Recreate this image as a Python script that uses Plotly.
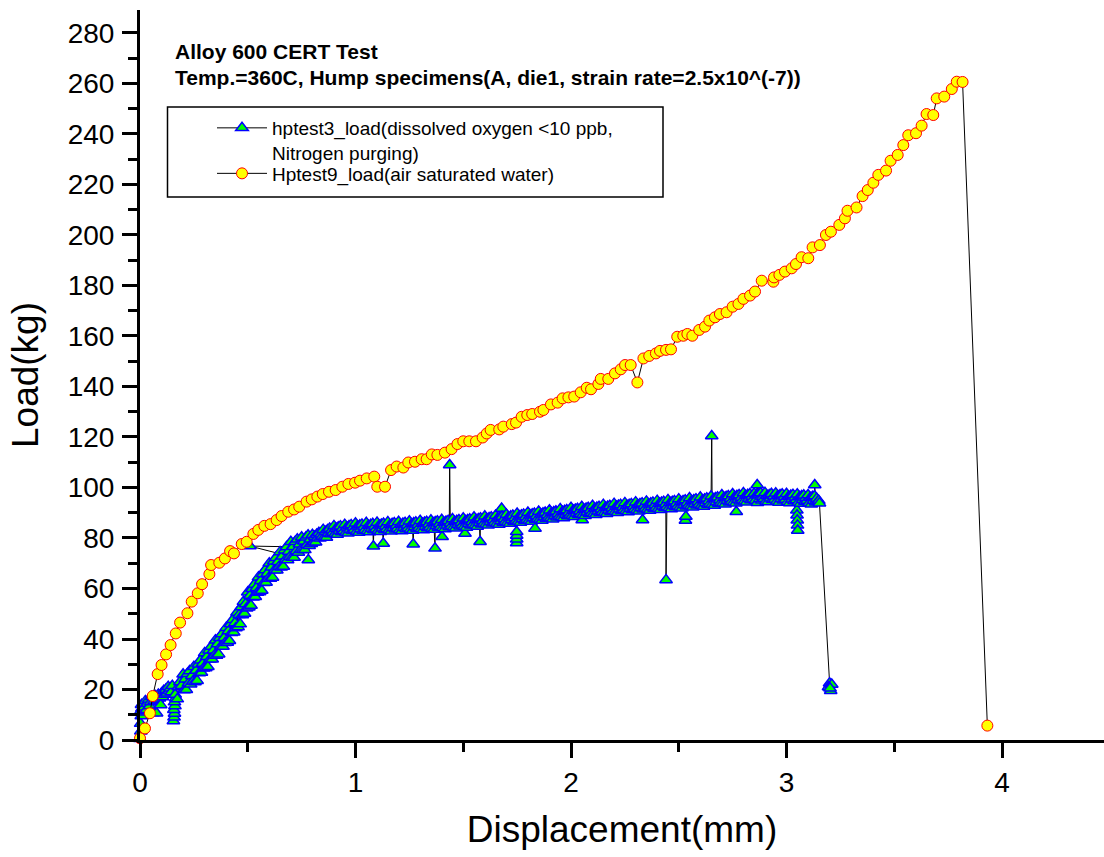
import plotly.graph_objects as go

# ---------------- data ----------------
# hptest3_load (dissolved oxygen <10 ppb, Nitrogen purging)
blue_x = [
    0.000, -0.008, 0.004, -0.004, 0.003, -0.007, 0.006, 0.000, 0.009, 0.007,
    0.015, 0.020, 0.025, 0.030, 0.035, 0.040, 0.045, 0.050, 0.055, 0.060,
    0.065, 0.070, 0.077, 0.080, 0.085, 0.090, 0.096, 0.100, 0.105, 0.110,
    0.115, 0.120, 0.125, 0.131, 0.135, 0.140, 0.145, 0.150, 0.155, 0.158,
    0.160, 0.157, 0.162, 0.160, 0.165, 0.163, 0.173, 0.178, 0.185, 0.192,
    0.200, 0.205, 0.210, 0.215, 0.220, 0.225, 0.230, 0.235, 0.240, 0.245,
    0.250, 0.255, 0.260, 0.265, 0.270, 0.275, 0.280, 0.285, 0.290, 0.295,
    0.300, 0.305, 0.310, 0.315, 0.320, 0.325, 0.330, 0.335, 0.340, 0.345,
    0.350, 0.355, 0.360, 0.365, 0.370, 0.375, 0.380, 0.385, 0.390, 0.395,
    0.400, 0.405, 0.410, 0.415, 0.420, 0.425, 0.430, 0.435, 0.440, 0.445,
    0.450, 0.455, 0.460, 0.465, 0.470, 0.475, 0.480, 0.485, 0.490, 0.495,
    0.500, 0.505, 0.510, 0.515, 0.520, 0.525, 0.530, 0.535, 0.540, 0.545,
    0.550, 0.555, 0.560, 0.565, 0.570, 0.575, 0.580, 0.585, 0.590, 0.595,
    0.600, 0.605, 0.610, 0.615, 0.620, 0.625, 0.630, 0.635, 0.640, 0.645,
    0.650, 0.655, 0.660, 0.665, 0.670, 0.675, 0.680, 0.685, 0.690, 0.695,
    0.700, 0.705, 0.710, 0.510, 0.715, 0.720, 0.725, 0.730, 0.735, 0.740, 0.745,
    0.750, 0.755, 0.760, 0.765, 0.770, 0.775, 0.780, 0.781, 0.785, 0.790, 0.795,
    0.800, 0.805, 0.810, 0.815, 0.820, 0.825, 0.830, 0.835, 0.840, 0.845,
    0.850, 0.855, 0.860, 0.865, 0.870, 0.875, 0.880, 0.885, 0.890, 0.895,
    0.900, 0.905, 0.910, 0.915, 0.920, 0.925, 0.930, 0.935, 0.940, 0.945,
    0.950, 0.955, 0.960, 0.965, 0.970, 0.975, 0.980, 0.985, 0.990, 0.995,
    1.000, 1.005, 1.010, 1.015, 1.020, 1.025, 1.030, 1.035, 1.040, 1.045,
    1.050, 1.055, 1.060, 1.065, 1.070, 1.075, 1.080, 1.083, 1.085, 1.090, 1.095,
    1.100, 1.105, 1.110, 1.115, 1.120, 1.125, 1.129, 1.130, 1.135, 1.140, 1.145,
    1.150, 1.155, 1.160, 1.165, 1.170, 1.175, 1.180, 1.185, 1.190, 1.195,
    1.200, 1.205, 1.210, 1.215, 1.220, 1.225, 1.230, 1.235, 1.240, 1.245,
    1.250, 1.255, 1.260, 1.265, 1.268, 1.270, 1.275, 1.280, 1.285, 1.290, 1.295,
    1.300, 1.305, 1.310, 1.315, 1.320, 1.325, 1.330, 1.335, 1.340, 1.345,
    1.350, 1.355, 1.360, 1.365, 1.369, 1.370, 1.375, 1.380, 1.385, 1.390, 1.395,
    1.400, 1.402, 1.405, 1.410, 1.415, 1.420, 1.425, 1.430, 1.435, 1.437, 1.440, 1.445,
    1.450, 1.455, 1.460, 1.465, 1.470, 1.475, 1.480, 1.485, 1.490, 1.495,
    1.500, 1.505, 1.508, 1.510, 1.515, 1.520, 1.525, 1.530, 1.535, 1.540, 1.545,
    1.550, 1.555, 1.560, 1.565, 1.570, 1.575, 1.578, 1.580, 1.585, 1.590, 1.595,
    1.600, 1.605, 1.610, 1.615, 1.620, 1.625, 1.630, 1.635, 1.640, 1.645,
    1.650, 1.655, 1.660, 1.665, 1.670, 1.675, 1.678, 1.680, 1.685, 1.690, 1.695,
    1.700, 1.705, 1.710, 1.715, 1.720, 1.725, 1.730, 1.735, 1.740, 1.745,
    1.748, 1.748, 1.748, 1.748,
    1.750, 1.755, 1.760, 1.765, 1.770, 1.775, 1.780, 1.785, 1.790, 1.795,
    1.800, 1.805, 1.810, 1.815, 1.820, 1.825, 1.830, 1.833, 1.835, 1.840, 1.845,
    1.850, 1.855, 1.860, 1.865, 1.870, 1.875, 1.880, 1.885, 1.890, 1.895,
    1.900, 1.905, 1.910, 1.915, 1.920, 1.925, 1.930, 1.935, 1.940, 1.945,
    1.950, 1.955, 1.960, 1.965, 1.970, 1.975, 1.980, 1.985, 1.990, 1.995,
    2.000, 2.005, 2.010, 2.015, 2.020, 2.025, 2.030, 2.035, 2.040, 2.045,
    2.050, 2.052, 2.055, 2.060, 2.065, 2.070, 2.075, 2.080, 2.085, 2.090, 2.095,
    2.100, 2.105, 2.110, 2.115, 2.120, 2.125, 2.130, 2.135, 2.140, 2.145,
    2.150, 2.155, 2.160, 2.165, 2.170, 2.175, 2.180, 2.185, 2.190, 2.195,
    2.200, 2.205, 2.210, 2.215, 2.220, 2.225, 2.230, 2.235, 2.240, 2.245,
    2.250, 2.255, 2.260, 2.265, 2.270, 2.275, 2.280, 2.285, 2.290, 2.295,
    2.300, 2.305, 2.310, 2.315, 2.320, 2.325, 2.330, 2.332, 2.335, 2.340, 2.345,
    2.350, 2.355, 2.360, 2.365, 2.370, 2.375, 2.380, 2.385, 2.390, 2.395,
    2.400, 2.405, 2.410, 2.415, 2.420, 2.425, 2.430, 2.435, 2.440, 2.441, 2.445,
    2.450, 2.455, 2.460, 2.465, 2.470, 2.475, 2.480, 2.485, 2.490, 2.495,
    2.500, 2.505, 2.510, 2.515, 2.520, 2.525, 2.530, 2.531, 2.533, 2.535, 2.540, 2.545,
    2.550, 2.555, 2.560, 2.565, 2.570, 2.575, 2.580, 2.585, 2.590, 2.595,
    2.600, 2.605, 2.610, 2.615, 2.620, 2.625, 2.630, 2.635, 2.640, 2.645,
    2.650, 2.653, 2.655, 2.660, 2.665, 2.670, 2.675, 2.680, 2.685, 2.690, 2.695,
    2.700, 2.705, 2.710, 2.715, 2.720, 2.725, 2.730, 2.735, 2.740, 2.745,
    2.750, 2.755, 2.760, 2.765, 2.767, 2.770, 2.775, 2.780, 2.785, 2.790, 2.795,
    2.800, 2.805, 2.810, 2.815, 2.820, 2.825, 2.830, 2.835, 2.840, 2.845,
    2.850, 2.855, 2.860, 2.864, 2.865, 2.870, 2.875, 2.880, 2.885, 2.890, 2.895,
    2.900, 2.905, 2.910, 2.915, 2.920, 2.925, 2.930, 2.935, 2.940, 2.945,
    2.950, 2.955, 2.960, 2.965, 2.970, 2.975, 2.980, 2.985, 2.990, 2.995,
    3.000, 3.005, 3.010, 3.015, 3.020, 3.025, 3.030, 3.035, 3.040, 3.045,
    3.048, 3.049, 3.050, 3.051, 3.052,
    3.050, 3.055, 3.060, 3.065, 3.070, 3.075, 3.080, 3.085, 3.090, 3.095,
    3.100, 3.105, 3.110, 3.115, 3.120, 3.125, 3.130, 3.131, 3.135, 3.140, 3.145,
    3.150, 3.153, 3.200, 3.195, 3.205, 3.210, 3.202,
]
blue_y = [
    0.5, 2.0, 3.5, 5.0, 6.5, 8.0, 9.5, 11.0, 12.5, 14.0,
    11.5, 13.0, 15.5, 12.0, 14.5, 16.0, 13.5, 15.0, 17.0, 10.7,
    15.5, 17.5, 10.6, 16.0, 18.0, 16.5, 13.9, 18.5, 17.0, 19.5,
    18.0, 20.0, 18.5, 21.1, 19.5, 20.5, 19.0, 21.5, 7.5, 9.0,
    10.5, 12.0, 13.5, 15.0, 16.5, 18.0, 16.2, 21.0, 23.0, 21.5,
    26.0, 19.8, 24.1, 19.9, 26.2, 22.5, 27.3, 22.1, 25.4, 23.2,
    29.0, 23.0, 27.5, 23.5, 30.0, 26.5, 31.6, 26.7, 30.3, 28.4,
    34.5, 28.5, 33.0, 29.0, 35.5, 32.0, 37.0, 32.0, 35.5, 33.5,
    39.5, 33.5, 38.0, 34.0, 40.5, 37.0, 42.0, 37.0, 40.5, 38.5,
    44.5, 38.6, 43.2, 39.3, 45.9, 42.5, 47.6, 42.7, 46.3, 44.4,
    50.5, 44.8, 49.6, 45.9, 52.7, 49.5, 54.8, 50.1, 53.9, 52.2,
    58.5, 52.6, 57.2, 53.3, 59.9, 56.5, 61.6, 56.7, 60.3, 58.4,
    64.5, 58.6, 63.1, 59.2, 65.7, 62.3, 67.3, 62.4, 65.9, 64.0,
    70.0, 64.0, 68.4, 64.4, 70.8, 67.3, 72.2, 67.2, 70.6, 68.6,
    74.5, 68.4, 72.8, 68.7, 75.1, 71.5, 76.4, 71.3, 74.7, 72.6,
    78.5, 72.3, 76.5, 76.8, 72.3, 78.5, 74.8, 79.5, 74.3, 77.5, 75.3,
    80.3, 75.3, 78.7, 75.3, 80.3, 77.3, 81.1, 71.3, 76.9, 79.5, 77.7,
    81.3, 78.3, 80.6, 78.3, 81.4, 80.1, 82.1, 79.9, 81.5, 80.6,
    83.3, 80.3, 82.5, 80.2, 83.2, 81.9, 83.8, 81.6, 83.1, 82.2,
    84.8, 81.7, 83.8, 81.4, 84.3, 82.9, 84.7, 82.4, 83.8, 82.8,
    85.3, 82.2, 84.3, 81.9, 84.8, 83.4, 85.2, 82.9, 84.3, 83.3,
    85.8, 82.6, 84.7, 82.2, 85.1, 83.6, 85.4, 83.0, 84.4, 83.3,
    86.0, 82.8, 84.9, 82.4, 85.3, 83.8, 85.6, 76.7, 83.2, 84.6, 83.5,
    86.1, 82.9, 85.0, 82.5, 85.4, 83.9, 77.8, 85.7, 83.3, 84.7, 83.6,
    86.3, 83.1, 85.2, 82.7, 85.6, 84.1, 85.9, 83.5, 84.9, 83.8,
    86.4, 83.2, 85.3, 82.8, 85.7, 84.2, 86.0, 83.6, 85.0, 83.9,
    86.6, 83.4, 85.5, 83.0, 77.5, 85.9, 84.4, 86.2, 83.8, 85.2, 84.1,
    86.8, 83.6, 85.7, 83.2, 86.1, 84.6, 86.4, 84.0, 85.4, 84.3,
    87.0, 83.8, 85.9, 83.4, 75.9, 86.3, 84.8, 86.6, 84.2, 85.6, 84.5,
    87.2, 80.5, 84.0, 86.1, 83.6, 86.5, 85.0, 86.8, 84.4, 108.9, 85.8, 84.7,
    87.5, 84.3, 86.4, 83.9, 86.8, 85.3, 87.1, 84.7, 86.1, 85.0,
    87.8, 84.6, 81.8, 86.7, 84.2, 87.1, 85.6, 87.4, 85.0, 86.4, 85.3,
    88.2, 85.0, 87.1, 84.6, 87.5, 86.0, 78.5, 87.8, 85.4, 86.8, 85.7,
    88.6, 85.4, 87.5, 85.0, 87.9, 86.4, 88.2, 85.8, 87.2, 86.1,
    88.9, 85.7, 87.8, 85.3, 88.2, 86.7, 91.7, 88.5, 86.1, 87.5, 86.4,
    89.3, 86.1, 88.2, 85.7, 88.6, 87.1, 88.9, 86.5, 87.9, 86.8,
    78.0, 79.5, 81.0, 82.5,
    89.7, 86.5, 88.6, 86.1, 89.0, 87.5, 89.3, 86.9, 88.3, 87.2,
    90.1, 86.9, 89.0, 86.5, 89.4, 87.9, 89.7, 83.8, 87.3, 88.7, 87.6,
    90.5, 87.3, 89.4, 86.9, 89.8, 88.3, 90.1, 87.7, 89.1, 88.0,
    91.0, 87.8, 89.9, 87.4, 90.3, 88.8, 90.6, 88.2, 89.6, 88.5,
    91.5, 88.3, 90.4, 87.9, 90.8, 89.3, 91.1, 88.7, 90.1, 89.0,
    92.0, 88.8, 90.9, 88.4, 91.3, 89.8, 91.6, 89.2, 90.6, 89.5,
    92.4, 87.1, 89.2, 91.3, 88.8, 91.7, 90.2, 92.0, 89.6, 91.0, 89.9,
    92.8, 89.6, 91.7, 89.2, 92.1, 90.6, 92.4, 90.0, 91.4, 90.3,
    93.2, 90.0, 92.1, 89.6, 92.5, 91.0, 92.8, 90.4, 91.8, 90.7,
    93.6, 90.4, 92.5, 90.0, 92.9, 91.4, 93.2, 90.8, 92.2, 91.1,
    93.9, 90.7, 92.8, 90.3, 93.2, 91.7, 93.5, 91.1, 92.5, 91.4,
    94.2, 91.0, 93.1, 90.6, 93.5, 92.0, 93.8, 87.1, 91.4, 92.8, 91.7,
    94.5, 91.3, 93.4, 90.9, 93.8, 92.3, 94.1, 91.7, 93.1, 92.0,
    94.8, 91.6, 93.7, 91.2, 94.1, 92.6, 94.4, 92.0, 93.4, 63.4, 92.3,
    95.1, 91.9, 94.0, 91.5, 94.4, 92.9, 94.7, 92.3, 93.7, 92.6,
    95.4, 92.2, 94.3, 91.8, 94.7, 93.2, 95.0, 86.9, 88.5, 92.6, 94.0, 92.9,
    95.8, 92.6, 94.7, 92.2, 95.1, 93.6, 95.4, 93.0, 94.4, 93.3,
    96.1, 92.9, 95.0, 92.5, 95.4, 93.9, 95.7, 93.3, 94.7, 93.6,
    96.5, 120.4, 93.3, 95.4, 92.9, 95.8, 94.3, 96.1, 93.7, 95.1, 94.0,
    97.0, 93.8, 95.9, 93.4, 96.3, 94.8, 96.6, 94.2, 95.6, 94.5,
    97.4, 94.2, 96.3, 93.8, 90.4, 96.7, 95.2, 97.0, 94.6, 96.0, 94.9,
    97.8, 94.6, 96.7, 94.2, 97.1, 95.6, 97.4, 95.0, 96.4, 95.3,
    97.6, 94.8, 96.9, 101.0, 94.0, 97.3, 95.4, 97.8, 94.9, 96.2, 95.5,
    97.9, 94.5, 96.6, 94.3, 97.0, 95.7, 97.5, 95.1, 96.5, 95.2,
    97.7, 94.5, 96.6, 94.1, 97.0, 95.5, 97.3, 94.9, 96.3, 95.2,
    97.5, 94.3, 96.4, 93.9, 96.8, 95.3, 97.1, 94.7, 96.1, 95.0,
    91.0, 89.0, 87.0, 85.0, 83.0,
    97.3, 94.1, 96.2, 93.7, 96.6, 95.1, 96.9, 94.5, 95.9, 94.8,
    97.0, 93.8, 95.9, 93.4, 96.3, 94.8, 96.6, 101.0, 94.2, 95.6, 94.5,
    94.8, 93.8, 22.5, 21.0, 19.5, 22.0, 20.5,
]

# Hptest9_load (air saturated water)
red_x = [
    0.000, 0.023, 0.046, 0.059, 0.082, 0.100, 0.121, 0.142, 0.166, 0.186,
    0.220, 0.240, 0.268, 0.288, 0.322, 0.330, 0.368, 0.394, 0.418, 0.436,
    0.472, 0.495, 0.526, 0.549, 0.577, 0.606, 0.634, 0.657, 0.688, 0.715,
    0.739, 0.773, 0.797, 0.823, 0.848, 0.877, 0.908, 0.939, 0.967, 0.998,
    1.021, 1.052, 1.087, 1.101, 1.137, 1.165, 1.191, 1.222, 1.245, 1.276,
    1.307, 1.330, 1.354, 1.380, 1.415, 1.446, 1.473, 1.500, 1.528, 1.559,
    1.590, 1.609, 1.627, 1.667, 1.686, 1.725, 1.745, 1.771, 1.797, 1.820,
    1.856, 1.872, 1.907, 1.938, 1.961, 1.988, 2.015, 2.045, 2.073, 2.093,
    2.127, 2.138, 2.173, 2.204, 2.231, 2.251, 2.277, 2.308, 2.336, 2.363,
    2.394, 2.413, 2.441, 2.464, 2.493, 2.521, 2.540, 2.563, 2.595, 2.622,
    2.642, 2.668, 2.691, 2.722, 2.750, 2.777, 2.800, 2.831, 2.854, 2.885,
    2.939, 2.942, 2.967, 2.993, 3.024, 3.044, 3.070, 3.101, 3.121, 3.155,
    3.183, 3.206, 3.245, 3.271, 3.283, 3.325, 3.353, 3.377, 3.403, 3.426,
    3.462, 3.483, 3.516, 3.542, 3.565, 3.601, 3.627, 3.650, 3.681, 3.697,
    3.732, 3.767, 3.790, 3.817, 3.932,
]
red_y = [
    0.7, 4.6, 10.6, 17.4, 26.1, 29.7, 33.9, 37.6, 42.2, 46.5,
    50.2, 54.8, 58.1, 61.7, 65.7, 69.3, 70.2, 71.9, 74.8, 73.9,
    77.6, 78.5, 81.6, 83.2, 84.8, 85.5, 87.1, 88.7, 90.4, 91.3,
    92.4, 94.4, 95.3, 96.4, 97.4, 98.3, 99.0, 100.3, 101.4, 101.9,
    102.7, 103.6, 104.3, 100.3, 100.3, 106.9, 108.3, 107.9, 109.9, 110.2,
    111.2, 111.2, 113.1, 112.9, 113.8, 115.2, 117.2, 118.3, 118.3, 118.3,
    119.8, 121.4, 122.8, 123.0, 124.1, 125.1, 125.7, 128.0, 128.7, 129.1,
    130.0, 130.7, 132.9, 133.6, 135.3, 135.7, 136.0, 137.7, 139.5, 138.9,
    141.0, 143.0, 143.0, 145.2, 146.8, 148.5, 148.5, 141.6, 151.1, 152.1,
    153.1, 154.1, 154.5, 154.7, 159.7, 160.1, 160.8, 160.1, 162.4, 163.7,
    166.1, 167.4, 168.7, 169.4, 171.6, 172.7, 174.7, 176.0, 177.6, 181.9,
    181.5, 183.2, 184.2, 185.5, 186.8, 188.5, 191.2, 190.8, 195.1, 196.0,
    200.0, 201.3, 204.0, 206.6, 209.6, 210.9, 215.4, 217.8, 220.7, 223.8,
    225.5, 229.4, 231.7, 235.6, 239.5, 240.3, 243.3, 247.9, 247.5, 254.1,
    254.8, 257.8, 260.7, 260.6, 5.7,
]

assert len(blue_x) == len(blue_y), (len(blue_x), len(blue_y))
assert len(red_x) == len(red_y), (len(red_x), len(red_y))

blue_name = "hptest3_load(dissolved oxygen &lt;10 ppb,<br>Nitrogen purging)"
red_name = "Hptest9_load(air saturated water)"
title_line1 = "Alloy 600 CERT Test"
title_line2 = "Temp.=360C, Hump specimens(A, die1, strain rate=2.5x10^(-7))"

x_max = 4.4733
y_max = 289.1

# ---------------- layout geometry ----------------
W, H = 1104, 857
L, R, T, B = 140, 0, 10, 117
PW = W - L - R
PH = H - T - B


def paper_x(p):
    return (p - L) / PW


def paper_y(p):
    return (H - B - p) / PH


FONT = "Liberation Sans, Arial, Helvetica, sans-serif"

fig = go.Figure()
fig.add_trace(go.Scatter(
    x=blue_x, y=blue_y, mode="lines+markers", name=blue_name,
    line=dict(color="black", width=1),
    marker=dict(symbol="triangle-up", size=11, color="#00FF00",
                line=dict(color="#0000FF", width=1.5)),
    cliponaxis=False, legend="legend", showlegend=True,
))
fig.add_trace(go.Scatter(
    x=red_x, y=red_y, mode="lines+markers", name=red_name,
    line=dict(color="black", width=1),
    marker=dict(symbol="circle", size=11, color="#FFFF00",
                line=dict(color="#FF0000", width=1)),
    cliponaxis=False, legend="legend2", showlegend=True,
))

axis_common = dict(
    showline=True, linewidth=3, linecolor="black", mirror=False,
    showgrid=False, zeroline=False, ticks="outside", ticklen=15,
    tickwidth=3, tickcolor="black", automargin=False,
    tickfont=dict(size=28, family=FONT, color="black"),
)

legend_common = dict(
    xanchor="left", yanchor="top", bgcolor="rgba(0,0,0,0)", borderwidth=0,
    font=dict(size=19, family=FONT, color="black"), valign="top",
    itemwidth=50,
)

fig.update_layout(
    width=W, height=H,
    showlegend=True,
    margin=dict(l=L, r=R, t=T, b=B, pad=0),
    paper_bgcolor="white", plot_bgcolor="white",
    font=dict(family=FONT, color="black"),
    xaxis=dict(
        range=[0, x_max], tick0=0, dtick=1,
        minor=dict(dtick=0.5, ticks="outside", ticklen=9, tickwidth=3,
                   tickcolor="black", showgrid=False),
        title=dict(text="Displacement(mm)", font=dict(size=37, family=FONT),
                   standoff=20),
        ticklabelstandoff=0,
        **axis_common,
    ),
    yaxis=dict(
        range=[0, y_max], tick0=0, dtick=20,
        minor=dict(dtick=10, ticks="outside", ticklen=9, tickwidth=3,
                   tickcolor="black", showgrid=False),
        title=dict(text="Load(kg)", font=dict(size=37, family=FONT),
                   standoff=18),
        ticklabelstandoff=2,
        **axis_common,
    ),
    legend=dict(x=paper_x(212), y=paper_y(109), **legend_common),
    legend2=dict(x=paper_x(212), y=paper_y(154.5), **legend_common),
    shapes=[dict(
        type="rect", xref="paper", yref="paper",
        x0=paper_x(167.5), x1=paper_x(663), y0=paper_y(197), y1=paper_y(107),
        line=dict(color="black", width=1.5), fillcolor="rgba(0,0,0,0)",
        layer="above",
    )],
    annotations=[
        dict(text="<b>" + title_line1 + "</b>", xref="paper", yref="paper",
             x=paper_x(173), y=paper_y(52), xanchor="left", yanchor="middle",
             showarrow=False, font=dict(size=21, family=FONT, color="black")),
        dict(text="<b>" + title_line2 + "</b>", xref="paper", yref="paper",
             x=paper_x(173), y=paper_y(78), xanchor="left", yanchor="middle",
             showarrow=False, font=dict(size=21, family=FONT, color="black")),
    ],
)

fig.write_html("out.html")
